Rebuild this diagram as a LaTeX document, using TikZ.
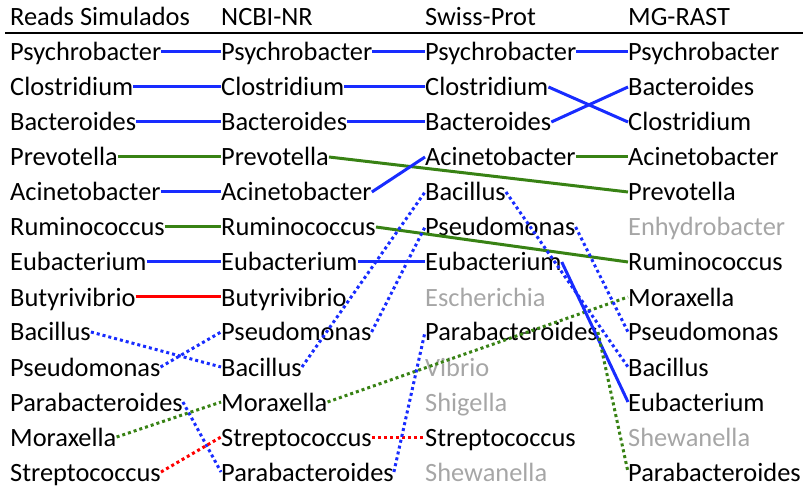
\documentclass[tikz,border=0pt]{standalone}
\usepackage{fontspec}
\setmainfont{Carlito}
\usepackage{xcolor}
\usepackage{tikz}

\definecolor{linkblue}{RGB}{24,44,255}
\definecolor{linkgreen}{RGB}{56,130,20}
\definecolor{linkred}{RGB}{255,0,0}
\definecolor{missgray}{RGB}{166,166,166}

\begin{document}
\begin{tikzpicture}[x=1pt, y=-1pt,
	taxon/.style={anchor=base west, inner sep=0pt, text height=18pt, text depth=0pt, font=\fontsize{26.4}{30}\selectfont},
	missing/.style={taxon, text=missgray},
	bluelink/.style={draw=linkblue, line width=3pt},
	greenlink/.style={draw=linkgreen, line width=3pt},
	redlink/.style={draw=linkred, line width=3pt},
	dotlink/.style={dash pattern=on 3pt off 3pt}]
	\useasboundingbox (0,0) rectangle (803,486);

	% headers
	\node[taxon] (hr) at (10,26) {Reads Simulados};
	\node[taxon] (hn) at (221,26) {NCBI-NR};
	\node[taxon] (hs) at (425,26) {Swiss-Prot};
	\node[taxon] (hm) at (628,26) {MG-RAST};
	\draw[line width=1.5pt] (5,33) -- (803,33);

	% Reads Simulados
	\node[taxon] (r1) at (10,61) {Psychrobacter};
	\node[taxon] (r2) at (10,96) {Clostridium};
	\node[taxon] (r3) at (10,131) {Bacteroides};
	\node[taxon] (r4) at (10,166) {Prevotella};
	\node[taxon] (r5) at (10,201) {Acinetobacter};
	\node[taxon] (r6) at (10,236) {Ruminococcus};
	\node[taxon] (r7) at (10,271) {Eubacterium};
	\node[taxon] (r8) at (10,306) {Butyrivibrio};
	\node[taxon] (r9) at (10,341) {Bacillus};
	\node[taxon] (r10) at (10,376) {Pseudomonas};
	\node[taxon] (r11) at (10,411) {Parabacteroides};
	\node[taxon] (r12) at (10,446) {Moraxella};
	\node[taxon] (r13) at (10,481) {Streptococcus};

	% NCBI-NR
	\node[taxon] (n1) at (221,61) {Psychrobacter};
	\node[taxon] (n2) at (221,96) {Clostridium};
	\node[taxon] (n3) at (221,131) {Bacteroides};
	\node[taxon] (n4) at (221,166) {Prevotella};
	\node[taxon] (n5) at (221,201) {Acinetobacter};
	\node[taxon] (n6) at (221,236) {Ruminococcus};
	\node[taxon] (n7) at (221,271) {Eubacterium};
	\node[taxon] (n8) at (221,306) {Butyrivibrio};
	\node[taxon] (n9) at (221,341) {Pseudomonas};
	\node[taxon] (n10) at (221,376) {Bacillus};
	\node[taxon] (n11) at (221,411) {Moraxella};
	\node[taxon] (n12) at (221,446) {Streptococcus};
	\node[taxon] (n13) at (221,481) {Parabacteroides};

	% Swiss-Prot
	\node[taxon] (s1) at (425,61) {Psychrobacter};
	\node[taxon] (s2) at (425,96) {Clostridium};
	\node[taxon] (s3) at (425,131) {Bacteroides};
	\node[taxon] (s4) at (425,166) {Acinetobacter};
	\node[taxon] (s5) at (425,201) {Bacillus};
	\node[taxon] (s6) at (425,236) {Pseudomonas};
	\node[taxon] (s7) at (425,271) {Eubacterium};
	\node[missing] (s8) at (425,306) {Escherichia};
	\node[taxon] (s9) at (425,341) {Parabacteroides};
	\node[missing] (s10) at (425,376) {Vibrio};
	\node[missing] (s11) at (425,411) {Shigella};
	\node[taxon] (s12) at (425,446) {Streptococcus};
	\node[missing] (s13) at (425,481) {Shewanella};

	% MG-RAST
	\node[taxon] (m1) at (628,61) {Psychrobacter};
	\node[taxon] (m2) at (628,96) {Bacteroides};
	\node[taxon] (m3) at (628,131) {Clostridium};
	\node[taxon] (m4) at (628,166) {Acinetobacter};
	\node[taxon] (m5) at (628,201) {Prevotella};
	\node[missing] (m6) at (628,236) {Enhydrobacter};
	\node[taxon] (m7) at (628,271) {Ruminococcus};
	\node[taxon] (m8) at (628,306) {Moraxella};
	\node[taxon] (m9) at (628,341) {Pseudomonas};
	\node[taxon] (m10) at (628,376) {Bacillus};
	\node[taxon] (m11) at (628,411) {Eubacterium};
	\node[missing] (m12) at (628,446) {Shewanella};
	\node[taxon] (m13) at (628,481) {Parabacteroides};

	% Reads -> NCBI-NR
	\draw[bluelink] (r1.east) -- (n1.west);
	\draw[bluelink] (r2.east) -- (n2.west);
	\draw[bluelink] (r3.east) -- (n3.west);
	\draw[greenlink] (r4.east) -- (n4.west);
	\draw[bluelink] (r5.east) -- (n5.west);
	\draw[greenlink] (r6.east) -- (n6.west);
	\draw[bluelink] (r7.east) -- (n7.west);
	\draw[redlink] (r8.east) -- (n8.west);
	\draw[bluelink, dotlink] (r9.east) -- (n10.west);
	\draw[bluelink, dotlink] (r10.east) -- (n9.west);
	\draw[bluelink, dotlink] (r11.east) -- (n13.west);
	\draw[greenlink, dotlink] (r12.east) -- (n11.west);
	\draw[redlink, dotlink] (r13.east) -- (n12.west);

	% NCBI-NR -> Swiss-Prot
	\draw[bluelink] (n1.east) -- (s1.west);
	\draw[bluelink] (n2.east) -- (s2.west);
	\draw[bluelink] (n3.east) -- (s3.west);
	\draw[greenlink] (n4.east) -- (m5.west);
	\draw[bluelink] (n5.east) -- (s4.west);
	\draw[greenlink] (n6.east) -- (m7.west);
	\draw[bluelink] (n7.east) -- (s7.west);
	\draw[bluelink, dotlink] (n9.east) -- (s6.west);
	\draw[bluelink, dotlink] (n10.east) -- (s5.west);
	\draw[greenlink, dotlink] (n11.east) -- (m8.west);
	\draw[redlink, dotlink] (n12.east) -- (s12.west);
	\draw[bluelink, dotlink] (n13.east) -- (s9.west);

	% Swiss-Prot -> MG-RAST
	\draw[bluelink] (s1.east) -- (m1.west);
	\draw[bluelink] (s2.east) -- (m3.west);
	\draw[bluelink] (s3.east) -- (m2.west);
	\draw[greenlink] (s4.east) -- (m4.west);
	\draw[bluelink, dotlink] (s5.east) -- (m10.west);
	\draw[bluelink, dotlink] (s6.east) -- (m9.west);
	\draw[bluelink] (s7.east) -- (m11.west);
	\draw[greenlink, dotlink] (s9.east) -- (m13.west);
\end{tikzpicture}
\end{document}
